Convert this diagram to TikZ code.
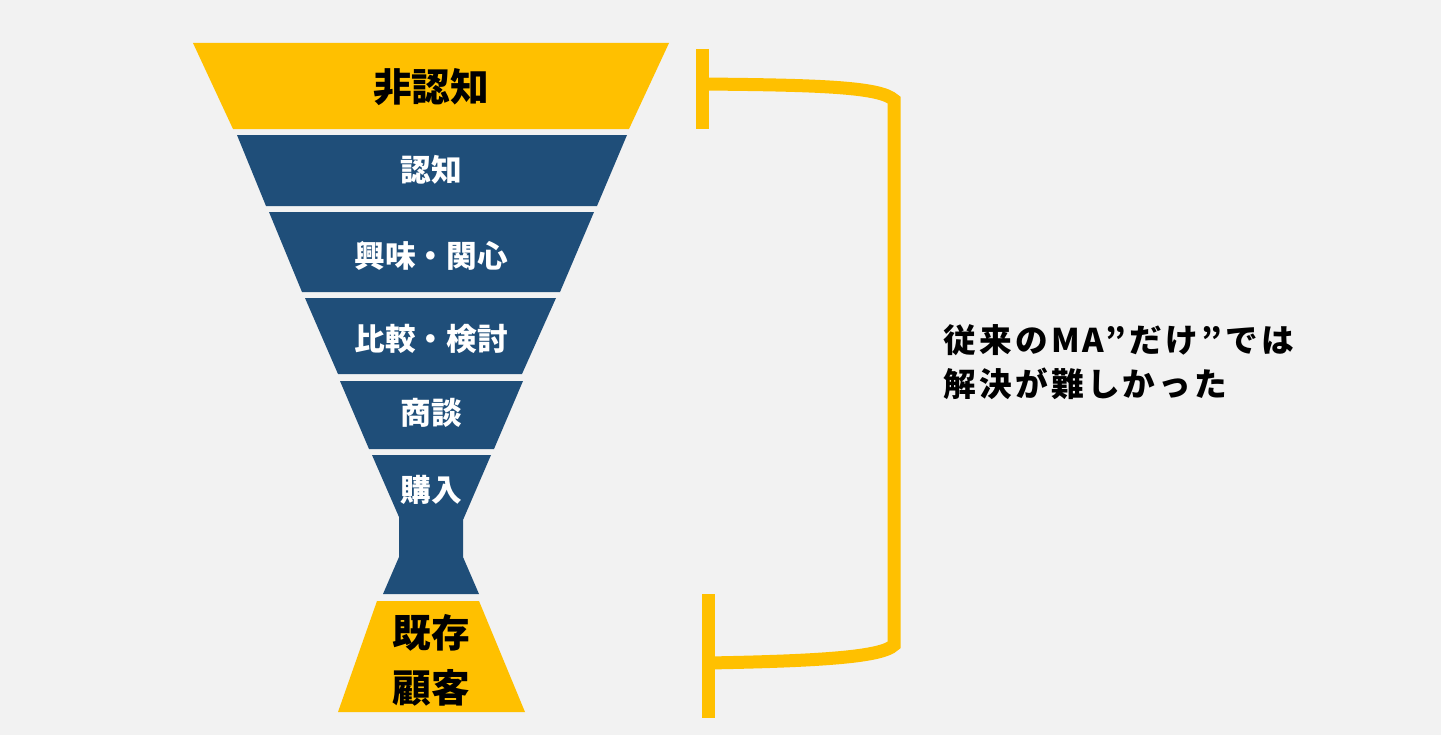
\documentclass[tikz,border=0pt]{standalone}
\usepackage{fontspec}
\newfontfamily\jpfont{Noto Sans CJK JP}
\newfontfamily\jpwidefont[LetterSpace=10]{Noto Sans CJK JP}
\definecolor{funnelyellow}{HTML}{FFC000}
\definecolor{funnelblue}{HTML}{1F4E79}
\definecolor{paper}{HTML}{F2F2F2}
\begin{document}
\begin{tikzpicture}[x=0.75pt, y=-0.75pt,
		yellowband/.style={fill=funnelyellow},
		blueband/.style={fill=funnelblue},
		bandtext/.style={font=\jpfont\bfseries\fontsize{23}{28}\selectfont, text=white, inner sep=0pt},
		bigtext/.style={font=\jpfont\bfseries\fontsize{29}{41}\selectfont, text=black, inner sep=0pt, align=center},
		notetext/.style={font=\jpwidefont\bfseries\fontsize{24.5}{33}\selectfont, text=black, inner sep=0pt, align=left},
		bracket/.style={draw=funnelyellow, line width=9.75pt}]
	% 1. Nền
	\fill[paper] (0,0) rectangle (1441,735);
	\useasboundingbox (0,0) rectangle (1441,735);
	
	% 2. Các tầng của phễu
	\fill[yellowband] (193,43) -- (669,43) -- (629,129) -- (233,129) -- cycle;
	\fill[blueband] (237,135) -- (627,135) -- (597,206) -- (266,206) -- cycle;
	\fill[blueband] (269,212) -- (594,212) -- (560,292) -- (302,292) -- cycle;
	\fill[blueband] (305,298) -- (556,298) -- (522,374) -- (338,374) -- cycle;
	\fill[blueband] (340,381) -- (523,381) -- (494,449) -- (369,449) -- cycle;
	% tầng cuối có cổ hẹp
	\fill[blueband] (372,455) -- (491,455) -- (463,520) -- (463,557) -- (479,594)
		-- (383,594) -- (399,557) -- (399,517) -- cycle;
	\fill[yellowband] (377,601) -- (479,601) -- (525,712) -- (338,712) -- cycle;
	
	% 3. Nhãn các tầng
	\node[bigtext] (nonaware) at (431,87) {非認知};
	\node[bandtext] (aware) at (431,170) {認知};
	\node[bandtext] (interest) at (431,256) {興味・関心};
	\node[bandtext] (compare) at (431,339) {比較・検討};
	\node[bandtext] (deal) at (431,413) {商談};
	\node[bandtext] (buy) at (431,490) {購入};
	\node[bigtext] (existing) at (431,660) {既存\\顧客};
	
	% 4. Ngoặc vàng bên phải
	\coordinate (brtop) at (702,84);
	\coordinate (brbot) at (708,663);
	\draw[bracket] (702,49) -- (702,129);
	\draw[bracket] (708,594) -- (708,718);
	\draw[bracket] (brtop) .. controls (820,85) and (880,87) .. (894,100)
		-- (894,645) .. controls (882,657) and (820,661) .. (brbot);
	
	% 5. Chú thích
	\node[notetext, anchor=west] (note) at (943,362) {従来のMA”だけ”では\\解決が難しかった};
\end{tikzpicture}
\end{document}
